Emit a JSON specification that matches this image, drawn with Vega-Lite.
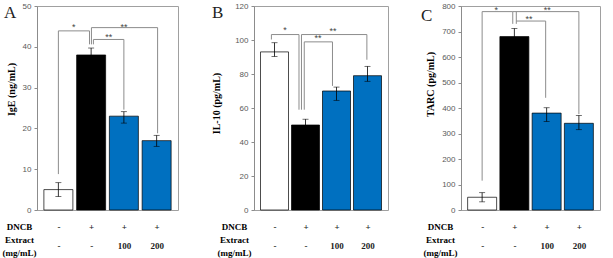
{
  "$schema": "https://vega.github.io/schema/vega-lite/v6.json",
  "padding": {"left": 1, "top": 1, "right": 0, "bottom": 0},
  "background": "white",
  "config": {
    "view": {"stroke": "#a0a0a0", "strokeWidth": 1},
    "axisY": {"labelFont": "Liberation Sans", "labelFontSize": 8, "labelColor": "#595959", "tickColor": "#8c8c8c", "tickSize": 3, "domainColor": "#8c8c8c", "grid": false, "labelPadding": 3, "labelFlush": false, "labelOverlap": false, "labelBound": false, "labelSeparation": 0, "titleFont": "Liberation Serif", "titleFontSize": 10, "titleFontWeight": "bold", "titleColor": "#000000", "titleAlign": "center", "titleBaseline": "middle"},
    "axisX": {"domain": false, "ticks": false, "grid": false, "labelFont": "Liberation Serif", "labelFontWeight": "bold", "labelFontSize": 9, "labelColor": "#222222", "labelLineHeight": 19, "labelPadding": 12, "labelBaseline": "top", "labelOverlap": false, "labelFlush": false, "titleFont": "Liberation Serif", "titleFontWeight": "bold", "titleFontSize": 9, "titleColor": "#000000", "titleLineHeight": 13.2, "titleAngle": 0, "titleAlign": "center", "titleBaseline": "top", "titleY": 12},
    "title": {"font": "Liberation Serif", "fontSize": 17, "fontWeight": "normal", "color": "#222222", "anchor": "start", "frame": "group", "offset": 0, "baseline": "bottom"}
  },
  "datasets": {
    "barsA": [
      {"pos": 1, "grp": "Normal", "value": 5, "lo": 3.3, "hi": 6.7},
      {"pos": 2, "grp": "DNCB", "value": 38, "lo": 36.3, "hi": 39.7},
      {"pos": 3, "grp": "E100", "value": 23, "lo": 21.3, "hi": 24.1},
      {"pos": 4, "grp": "E200", "value": 17, "lo": 15.6, "hi": 18.3}
    ],
    "barsB": [
      {"pos": 1, "grp": "Normal", "value": 93, "lo": 90.3, "hi": 98.4},
      {"pos": 2, "grp": "DNCB", "value": 50, "lo": 47, "hi": 53.4},
      {"pos": 3, "grp": "E100", "value": 70, "lo": 64.5, "hi": 72.3},
      {"pos": 4, "grp": "E200", "value": 79, "lo": 75.7, "hi": 84.5}
    ],
    "barsC": [
      {"pos": 1, "grp": "Normal", "value": 50, "lo": 32, "hi": 68},
      {"pos": 2, "grp": "DNCB", "value": 680, "lo": 650, "hi": 712},
      {"pos": 3, "grp": "E100", "value": 380, "lo": 347, "hi": 401},
      {"pos": 4, "grp": "E200", "value": 340, "lo": 315, "hi": 371}
    ],
    "segA": [
      {"x": 1.0, "x2": 1.0, "y": 8.8, "y2": 43.9},
      {"x": 1.0, "x2": 1.95, "y": 43.9, "y2": 43.9},
      {"x": 1.95, "x2": 1.95, "y": 43.9, "y2": 40.6},
      {"x": 2.01, "x2": 2.01, "y": 40.6, "y2": 44.7},
      {"x": 2.01, "x2": 4.03, "y": 44.7, "y2": 44.7},
      {"x": 4.03, "x2": 4.03, "y": 44.7, "y2": 18.8},
      {"x": 2.07, "x2": 2.07, "y": 40.6, "y2": 41.8},
      {"x": 2.07, "x2": 3.0, "y": 41.8, "y2": 41.8},
      {"x": 3.0, "x2": 3.0, "y": 41.8, "y2": 24.6}
    ],
    "segB": [
      {"x": 0.9, "x2": 0.9, "y": 100.3, "y2": 103.2},
      {"x": 0.9, "x2": 1.79, "y": 103.2, "y2": 103.2},
      {"x": 1.79, "x2": 1.79, "y": 103.2, "y2": 59},
      {"x": 1.87, "x2": 1.87, "y": 59, "y2": 103.2},
      {"x": 1.87, "x2": 3.98, "y": 103.2, "y2": 103.2},
      {"x": 3.98, "x2": 3.98, "y": 103.2, "y2": 88.4},
      {"x": 1.96, "x2": 1.96, "y": 59, "y2": 98.9},
      {"x": 1.96, "x2": 2.87, "y": 98.9, "y2": 98.9},
      {"x": 2.87, "x2": 2.87, "y": 98.9, "y2": 73}
    ],
    "segC": [
      {"x": 1.0, "x2": 1.0, "y": 115, "y2": 778},
      {"x": 1.0, "x2": 1.95, "y": 778, "y2": 778},
      {"x": 1.95, "x2": 1.95, "y": 778, "y2": 730},
      {"x": 1.95, "x2": 4.0, "y": 778, "y2": 778},
      {"x": 4.0, "x2": 4.0, "y": 778, "y2": 376},
      {"x": 2.06, "x2": 2.06, "y": 730, "y2": 778},
      {"x": 2.06, "x2": 2.97, "y": 741, "y2": 741},
      {"x": 2.97, "x2": 2.97, "y": 741, "y2": 440}
    ],
    "starsA": [
      {"x": 1.47, "y": 44.9, "t": "*"},
      {"x": 3.0, "y": 44.9, "t": "**"},
      {"x": 2.54, "y": 42.5, "t": "**"}
    ],
    "starsB": [
      {"x": 1.34, "y": 106, "t": "*"},
      {"x": 2.89, "y": 105.5, "t": "**"},
      {"x": 2.4, "y": 101.3, "t": "**"}
    ],
    "starsC": [
      {"x": 1.44, "y": 786, "t": "*"},
      {"x": 3.02, "y": 786, "t": "**"},
      {"x": 2.45, "y": 750, "t": "**"}
    ]
  },
  "spacing": 31,
  "resolve": {"scale": {"x": "independent", "y": "independent"}},
  "hconcat": [
    {
      "width": 141, "height": 204,
      "title": {"text": "A", "dx": -33, "dy": 24},
      "encoding": {
        "x": {"type": "quantitative", "scale": {"domain": [0.5, 4.5], "nice": false, "zero": false},
              "axis": {"values": [1, 2, 3, 4], "labelExpr": "datum.value == 1 ? ['-', '-'] : datum.value == 2 ? ['+', '-'] : datum.value == 3 ? ['+', '100'] : ['+', '200']", "titleX": -18}, "title": ["DNCB", "Extract", "(mg/mL)"]},
        "y": {"type": "quantitative", "scale": {"domain": [0, 50], "nice": false},
              "axis": {"values": [0, 10, 20, 30, 40, 50], "titleX": -26, "titleY": 83}, "title": "IgE (ng/mL)"}
      },
      "layer": [
        {
          "data": {"name": "barsA"},
          "mark": {"type": "bar", "width": 29, "stroke": "#000000", "strokeWidth": 0.7},
          "encoding": {
            "x": {"field": "pos"},
            "y": {"field": "value"},
            "fill": {"field": "grp", "type": "nominal", "scale": {"domain": ["Normal", "DNCB", "E100", "E200"], "range": ["#ffffff", "#000000", "#0070c0", "#0070c0"]}, "legend": null}
          }
        },
        {
          "data": {"name": "barsA"},
          "mark": {"type": "rule", "color": "#000000", "strokeWidth": 0.8},
          "encoding": {"x": {"field": "pos"}, "y": {"field": "lo"}, "y2": {"field": "hi"}}
        },
        {
          "data": {"name": "barsA"},
          "mark": {"type": "tick", "orient": "horizontal", "size": 6, "thickness": 0.8, "color": "#000000"},
          "encoding": {"x": {"field": "pos"}, "y": {"field": "hi"}}
        },
        {
          "data": {"name": "barsA"},
          "mark": {"type": "tick", "orient": "horizontal", "size": 6, "thickness": 0.8, "color": "#000000"},
          "encoding": {"x": {"field": "pos"}, "y": {"field": "lo"}}
        },
        {
          "data": {"name": "segA"},
          "mark": {"type": "rule", "color": "#8c8c8c", "strokeWidth": 1},
          "encoding": {"x": {"field": "x"}, "x2": {"field": "x2"}, "y": {"field": "y"}, "y2": {"field": "y2"}}
        },
        {
          "data": {"name": "starsA"},
          "mark": {"type": "text", "font": "Liberation Sans", "fontSize": 9, "color": "#444444", "baseline": "middle"},
          "encoding": {"x": {"field": "x"}, "y": {"field": "y"}, "text": {"field": "t"}}
        }
      ]
    },
    {
      "width": 134, "height": 204,
      "title": {"text": "B", "dx": -42, "dy": 24},
      "encoding": {
        "x": {"type": "quantitative", "scale": {"domain": [0.5, 4.5], "nice": false, "zero": false},
              "axis": {"values": [1, 2, 3, 4], "labelExpr": "datum.value == 1 ? ['-', '-'] : datum.value == 2 ? ['+', '-'] : datum.value == 3 ? ['+', '100'] : ['+', '200']", "titleX": -20}, "title": ["DNCB", "Extract", "(mg/mL)"]},
        "y": {"type": "quantitative", "scale": {"domain": [0, 120], "nice": false},
              "axis": {"values": [0, 20, 40, 60, 80, 100, 120], "titleX": -38, "titleY": 97}, "title": "IL-10 (pg/mL)"}
      },
      "layer": [
        {
          "data": {"name": "barsB"},
          "mark": {"type": "bar", "width": 28, "stroke": "#000000", "strokeWidth": 0.7},
          "encoding": {
            "x": {"field": "pos"},
            "y": {"field": "value"},
            "fill": {"field": "grp", "type": "nominal", "scale": {"domain": ["Normal", "DNCB", "E100", "E200"], "range": ["#ffffff", "#000000", "#0070c0", "#0070c0"]}, "legend": null}
          }
        },
        {
          "data": {"name": "barsB"},
          "mark": {"type": "rule", "color": "#000000", "strokeWidth": 0.8},
          "encoding": {"x": {"field": "pos"}, "y": {"field": "lo"}, "y2": {"field": "hi"}}
        },
        {
          "data": {"name": "barsB"},
          "mark": {"type": "tick", "orient": "horizontal", "size": 6, "thickness": 0.8, "color": "#000000"},
          "encoding": {"x": {"field": "pos"}, "y": {"field": "hi"}}
        },
        {
          "data": {"name": "barsB"},
          "mark": {"type": "tick", "orient": "horizontal", "size": 6, "thickness": 0.8, "color": "#000000"},
          "encoding": {"x": {"field": "pos"}, "y": {"field": "lo"}}
        },
        {
          "data": {"name": "segB"},
          "mark": {"type": "rule", "color": "#8c8c8c", "strokeWidth": 1},
          "encoding": {"x": {"field": "x"}, "x2": {"field": "x2"}, "y": {"field": "y"}, "y2": {"field": "y2"}}
        },
        {
          "data": {"name": "starsB"},
          "mark": {"type": "text", "font": "Liberation Sans", "fontSize": 9, "color": "#444444", "baseline": "middle"},
          "encoding": {"x": {"field": "x"}, "y": {"field": "y"}, "text": {"field": "t"}}
        }
      ]
    },
    {
      "width": 139, "height": 204,
      "title": {"text": "C", "dx": -40, "dy": 27},
      "encoding": {
        "x": {"type": "quantitative", "scale": {"domain": [0.5, 4.5], "nice": false, "zero": false},
              "axis": {"values": [1, 2, 3, 4], "labelExpr": "datum.value == 1 ? ['-', '-'] : datum.value == 2 ? ['+', '-'] : datum.value == 3 ? ['+', '100'] : ['+', '200']", "titleX": -21}, "title": ["DNCB", "Extract", "(mg/mL)"]},
        "y": {"type": "quantitative", "scale": {"domain": [0, 800], "nice": false},
              "axis": {"values": [0, 100, 200, 300, 400, 500, 600, 700, 800], "titleX": -31, "titleY": 78}, "title": "TARC (pg/mL)"}
      },
      "layer": [
        {
          "data": {"name": "barsC"},
          "mark": {"type": "bar", "width": 29, "stroke": "#000000", "strokeWidth": 0.7},
          "encoding": {
            "x": {"field": "pos"},
            "y": {"field": "value"},
            "fill": {"field": "grp", "type": "nominal", "scale": {"domain": ["Normal", "DNCB", "E100", "E200"], "range": ["#ffffff", "#000000", "#0070c0", "#0070c0"]}, "legend": null}
          }
        },
        {
          "data": {"name": "barsC"},
          "mark": {"type": "rule", "color": "#000000", "strokeWidth": 0.8},
          "encoding": {"x": {"field": "pos"}, "y": {"field": "lo"}, "y2": {"field": "hi"}}
        },
        {
          "data": {"name": "barsC"},
          "mark": {"type": "tick", "orient": "horizontal", "size": 6, "thickness": 0.8, "color": "#000000"},
          "encoding": {"x": {"field": "pos"}, "y": {"field": "hi"}}
        },
        {
          "data": {"name": "barsC"},
          "mark": {"type": "tick", "orient": "horizontal", "size": 6, "thickness": 0.8, "color": "#000000"},
          "encoding": {"x": {"field": "pos"}, "y": {"field": "lo"}}
        },
        {
          "data": {"name": "segC"},
          "mark": {"type": "rule", "color": "#8c8c8c", "strokeWidth": 1},
          "encoding": {"x": {"field": "x"}, "x2": {"field": "x2"}, "y": {"field": "y"}, "y2": {"field": "y2"}}
        },
        {
          "data": {"name": "starsC"},
          "mark": {"type": "text", "font": "Liberation Sans", "fontSize": 9, "color": "#444444", "baseline": "middle"},
          "encoding": {"x": {"field": "x"}, "y": {"field": "y"}, "text": {"field": "t"}}
        }
      ]
    }
  ]
}
